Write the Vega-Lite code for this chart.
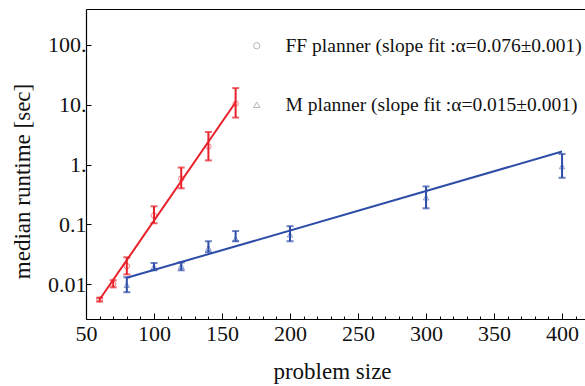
{
  "$schema": "https://vega.github.io/schema/vega-lite/v6.json",
  "width": 500,
  "height": 310,
  "autosize": "none",
  "padding": {"left": 86, "top": 9, "right": 0, "bottom": 67},
  "background": "white",
  "config": {
    "view": {"stroke": null},
    "font": "Liberation Serif",
    "axis": {
      "grid": false,
      "domainColor": "black",
      "domainWidth": 1.2,
      "tickColor": "black",
      "tickWidth": 1,
      "labelColor": "#111",
      "labelFont": "Liberation Serif",
      "labelFontSize": 22,
      "titleFont": "Liberation Serif",
      "titleFontSize": 23,
      "titleFontWeight": "normal",
      "titleColor": "#111"
    }
  },
  "datasets": {
    "obs": [
      {"series": "FF planner (slope fit :α=0.076±0.001)", "size": 60, "median": 0.0055, "lo": 0.0051, "hi": 0.0059},
      {"series": "FF planner (slope fit :α=0.076±0.001)", "size": 70, "median": 0.0100, "lo": 0.0088, "hi": 0.0116},
      {"series": "FF planner (slope fit :α=0.076±0.001)", "size": 80, "median": 0.020, "lo": 0.0145, "hi": 0.028},
      {"series": "FF planner (slope fit :α=0.076±0.001)", "size": 100, "median": 0.14, "lo": 0.104, "hi": 0.20},
      {"series": "FF planner (slope fit :α=0.076±0.001)", "size": 120, "median": 0.58, "lo": 0.40, "hi": 0.89},
      {"series": "FF planner (slope fit :α=0.076±0.001)", "size": 140, "median": 2.0, "lo": 1.17, "hi": 3.5},
      {"series": "FF planner (slope fit :α=0.076±0.001)", "size": 160, "median": 10.4, "lo": 6.1, "hi": 19},
      {"series": "M planner (slope fit :α=0.015±0.001)", "size": 80, "median": 0.0096, "lo": 0.0073, "hi": 0.013},
      {"series": "M planner (slope fit :α=0.015±0.001)", "size": 100, "median": 0.0195, "lo": 0.017, "hi": 0.0225},
      {"series": "M planner (slope fit :α=0.015±0.001)", "size": 120, "median": 0.020, "lo": 0.017, "hi": 0.023},
      {"series": "M planner (slope fit :α=0.015±0.001)", "size": 140, "median": 0.040, "lo": 0.034, "hi": 0.052},
      {"series": "M planner (slope fit :α=0.015±0.001)", "size": 160, "median": 0.057, "lo": 0.052, "hi": 0.077},
      {"series": "M planner (slope fit :α=0.015±0.001)", "size": 200, "median": 0.067, "lo": 0.052, "hi": 0.093},
      {"series": "M planner (slope fit :α=0.015±0.001)", "size": 300, "median": 0.28, "lo": 0.185, "hi": 0.43},
      {"series": "M planner (slope fit :α=0.015±0.001)", "size": 400, "median": 0.93, "lo": 0.6, "hi": 1.5}
    ],
    "fit": [
      {"series": "FF planner (slope fit :α=0.076±0.001)", "size": 60, "fit": 0.0055},
      {"series": "FF planner (slope fit :α=0.076±0.001)", "size": 160, "fit": 11.0},
      {"series": "M planner (slope fit :α=0.015±0.001)", "size": 80, "fit": 0.0127},
      {"series": "M planner (slope fit :α=0.015±0.001)", "size": 400, "fit": 1.65}
    ]
  },
  "resolve": {"scale": {"x": "independent"}},
  "layer": [
    {
      "layer": [
        {
          "data": {"name": "fit"},
          "mark": {"type": "line", "strokeWidth": 2, "clip": true},
          "encoding": {
            "y": {
              "field": "fit", "type": "quantitative",
              "scale": {"type": "log", "domain": [0.0026, 400], "nice": false},
              "axis": {
                "title": "median runtime [sec]",
                "values": [0.01, 0.1, 1, 10, 100],
                "labelExpr": "datum.value >= 1 ? datum.value + '.' : '' + datum.value",
                "tickSize": -5,
                "labelPadding": 5,
                "titleX": -64,
                "titleY": 172,
                "titleBaseline": "middle",
                "titleAngle": -90
              }
            }
          }
        },
        {
          "data": {"name": "obs"},
          "mark": {"type": "point", "filled": false, "opacity": 0.55, "strokeWidth": 1, "size": 30},
          "encoding": {
            "y": {"field": "median", "type": "quantitative", "axis": {"title": "median runtime [sec]"}},
            "shape": {
              "field": "series", "type": "nominal",
              "scale": {"range": ["circle", "triangle-up"]},
              "legend": {
                "orient": "none", "legendX": 161, "legendY": 27, "title": null,
                "labelFontSize": 19.5, "labelFont": "Liberation Serif", "labelFontWeight": "normal", "labelColor": "#111", "labelLimit": 0,
                "symbolSize": 40, "symbolStrokeWidth": 1, "symbolOpacity": 0.6,
                "rowPadding": 38, "labelOffset": 19, "padding": 0,
                "encode": {"symbols": {"update": {"fill": {"value": "transparent"}, "fillOpacity": {"value": 0}, "strokeWidth": {"value": 1}, "stroke": {"signal": "indexof(datum.value, 'FF') == 0 ? '#e8202a' : '#2c4ca8'"}}}}
              }
            }
          }
        },
        {
          "data": {"name": "obs"},
          "mark": {"type": "errorbar", "ticks": {"size": 7, "thickness": 2}, "rule": {"strokeWidth": 2}},
          "encoding": {
            "y": {"field": "lo", "type": "quantitative", "axis": {"title": "median runtime [sec]"}},
            "y2": {"field": "hi"}
          }
        },
        {
          "data": {"values": [{"top": 400}]},
          "mark": {"type": "rule", "color": "black", "strokeWidth": 1.5},
          "encoding": {
            "y": {"field": "top", "type": "quantitative", "axis": {"title": "median runtime [sec]"}},
            "x": {"datum": 50},
            "x2": {"datum": 417.6},
            "color": {"value": "black"}
          }
        }
      ],
      "encoding": {
        "x": {
          "field": "size", "type": "quantitative",
          "scale": {"domain": [50, 417.6], "nice": false, "zero": false},
          "axis": {
            "title": "problem size",
            "values": [50, 60, 70, 80, 90, 100, 110, 120, 130, 140, 150, 160, 170, 180, 190, 200, 210, 220, 230, 240, 250, 260, 270, 280, 290, 300, 310, 320, 330, 340, 350, 360, 370, 380, 390, 400, 410],
            "labelExpr": "datum.value % 50 == 0 ? datum.label : ''",
            "tickSize": {"condition": {"test": "datum.value % 50 == 0", "value": -6}, "value": -3},
            "labelPadding": 10,
            "labelFlush": false,
            "labelOverlap": false,
            "labelBound": false,
            "titleX": 246,
            "titleY": 52,
            "titleBaseline": "middle"
          }
        },
        "color": {
          "field": "series", "type": "nominal",
          "scale": {"range": ["#e8202a", "#2c4ca8"]},
          "legend": null
        }
      }
    },
    {
      "data": {"name": "fit"},
      "mark": {"type": "point", "opacity": 0},
      "encoding": {
        "x": {
          "field": "size", "type": "quantitative",
          "scale": {"domain": [50, 417.6], "nice": false, "zero": false},
          "axis": {"orient": "top", "title": null, "labels": false, "ticks": false, "domain": true}
        },
        "y": {"field": "fit", "type": "quantitative"}
      }
    }
  ]
}
